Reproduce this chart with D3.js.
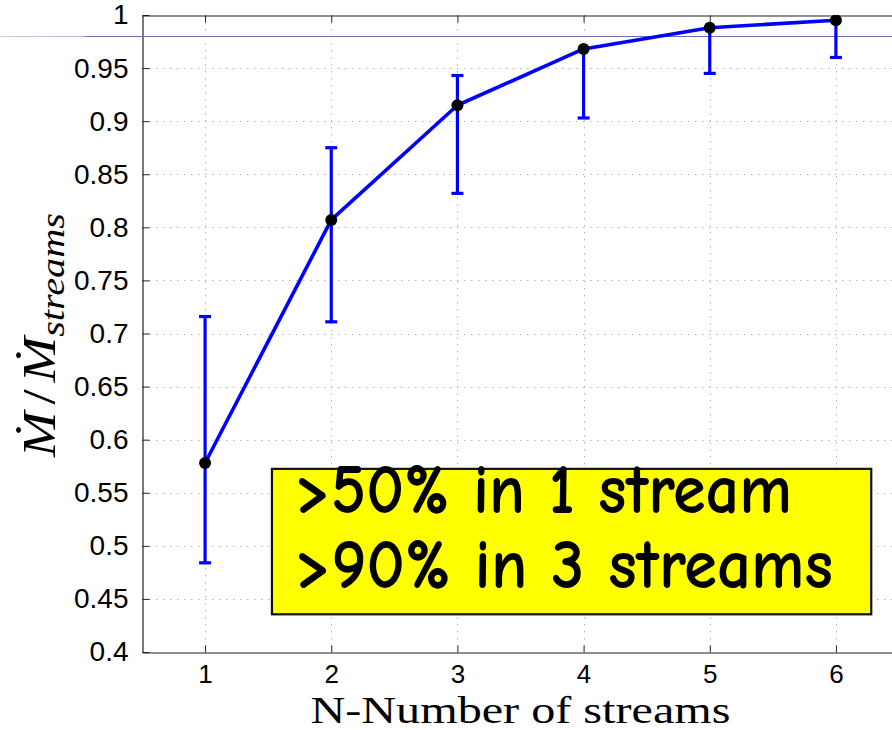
<!DOCTYPE html>
<html>
<head>
<meta charset="utf-8">
<script src="https://cdn.jsdelivr.net/npm/d3@7"></script>
<style>
  html, body { margin: 0; padding: 0; background: #fff; }
  svg { display: block; }
</style>
</head>
<body>
<svg id="chart" width="892" height="730"></svg>
<script>
// ---- data ----
const streams = [1, 2, 3, 4, 5, 6];
const fraction = [0.578, 0.807, 0.915, 0.968, 0.988, 0.995];
const errLow  = [0.484, 0.711, 0.832, 0.903, 0.945, 0.960];
const errHigh = [0.716, 0.875, 0.943, 0.968, 0.988, 0.995];
const yTicks = [0.4, 0.45, 0.5, 0.55, 0.6, 0.65, 0.7, 0.75, 0.8, 0.85, 0.9, 0.95, 1];
const yTickLabels = ["0.4", "0.45", "0.5", "0.55", "0.6", "0.65", "0.7", "0.75", "0.8", "0.85", "0.9", "0.95", "1"];
const xTicks = [1, 2, 3, 4, 5, 6];
const xTickLabels = ["1", "2", "3", "4", "5", "6"];
const refLevel = 0.98;
const noteLines = [">50% in 1 stream", ">90% in 3 streams"];
const xLabel = "N-Number of streams";

// ---- layout ----
const svg = d3.select("#chart");
const pLeft = 142, pRight = 899, pTop = 15, pBottom = 652;
const x = d3.scaleLinear().domain([0.5, 6.5]).range([pLeft, pRight]);
const y = d3.scaleLinear().domain([0.4, 1]).range([pBottom, pTop]);

const defs = svg.append("defs");
defs.append("clipPath").attr("id", "plotclip")
  .append("rect").attr("x", pLeft).attr("y", pTop).attr("width", pRight - pLeft).attr("height", pBottom - pTop);
const grad = defs.append("linearGradient").attr("id", "refgrad")
  .attr("gradientUnits", "userSpaceOnUse").attr("x1", 0).attr("x2", 892).attr("y1", 0).attr("y2", 0);
grad.append("stop").attr("offset", 0).attr("stop-color", "#c8cbe4");
grad.append("stop").attr("offset", 0.09).attr("stop-color", "#b6bade");
grad.append("stop").attr("offset", 0.1).attr("stop-color", "#6870b4");
grad.append("stop").attr("offset", 1).attr("stop-color", "#6870b4");

// grid
const grid = svg.append("g").attr("stroke", "#b4b4b4").attr("stroke-width", 1)
  .attr("stroke-dasharray", "1.5,5.5");
grid.selectAll("line.h").data(yTicks.slice(1, -1)).join("line").attr("class", "h")
  .attr("x1", pLeft).attr("x2", pRight)
  .attr("y1", d => Math.round(y(d)) + 0.5).attr("y2", d => Math.round(y(d)) + 0.5);
grid.selectAll("line.v").data(xTicks).join("line").attr("class", "v")
  .attr("y1", pTop).attr("y2", pBottom)
  .attr("x1", d => Math.round(x(d)) + 0.5).attr("x2", d => Math.round(x(d)) + 0.5);

// axes
const yAxis = d3.axisLeft(y).tickValues(yTicks).tickFormat((d, i) => yTickLabels[i])
  .tickSizeInner(-7).tickSizeOuter(0).tickPadding(14);
const gy = svg.append("g").attr("transform", `translate(${pLeft + 0.5},0)`).call(yAxis);
const xAxis = d3.axisBottom(x).tickValues(xTicks).tickFormat((d, i) => xTickLabels[i])
  .tickSizeInner(-7).tickSizeOuter(0).tickPadding(12);
const gx = svg.append("g").attr("transform", `translate(0,${pBottom + 0.5})`).call(xAxis);
const xTop = d3.axisTop(x).tickValues(xTicks).tickFormat("").tickSizeInner(-7).tickSizeOuter(0);
const gt = svg.append("g").attr("transform", `translate(0,${pTop + 0.5})`).call(xTop);
[gy, gx, gt].forEach(g => {
  g.selectAll("path.domain").attr("stroke", "#222").attr("stroke-width", 1.2);
  g.selectAll(".tick line").attr("stroke", "#222");
  g.selectAll("text").attr("fill", "#000")
    .style("font-family", "'Liberation Sans', Arial, Helvetica, sans-serif");
});
gy.selectAll("text").style("font-size", "28px");
gx.selectAll("text").style("font-size", "26px").attr("dy", "0.7em");

// reference line
svg.append("line")
  .attr("x1", 0).attr("x2", 892)
  .attr("y1", Math.round(y(refLevel)) + 0.5).attr("y2", Math.round(y(refLevel)) + 0.5)
  .attr("stroke", "url(#refgrad)").attr("stroke-width", 1);

// data
const plot = svg.append("g").attr("clip-path", "url(#plotclip)");
const pts = streams.map((s, i) => ({ s, v: fraction[i], lo: errLow[i], hi: errHigh[i] }));
const blue = "#0000ff";
plot.selectAll("line.err").data(pts).join("line").attr("class", "err")
  .attr("x1", d => x(d.s)).attr("x2", d => x(d.s))
  .attr("y1", d => y(d.lo)).attr("y2", d => y(d.hi))
  .attr("stroke", blue).attr("stroke-width", 3.2);
const caps = [];
pts.forEach(d => {
  if (d.lo < d.v) caps.push({ s: d.s, v: d.lo });
  if (d.hi > d.v) caps.push({ s: d.s, v: d.hi });
});
plot.selectAll("line.cap").data(caps).join("line").attr("class", "cap")
  .attr("x1", d => x(d.s) - 6).attr("x2", d => x(d.s) + 6)
  .attr("y1", d => y(d.v)).attr("y2", d => y(d.v))
  .attr("stroke", blue).attr("stroke-width", 3.2);
plot.append("path").datum(pts)
  .attr("d", d3.line().x(d => x(d.s)).y(d => y(d.v)))
  .attr("fill", "none").attr("stroke", blue).attr("stroke-width", 3.6)
  .attr("stroke-linejoin", "round");
plot.selectAll("circle").data(pts).join("circle")
  .attr("cx", d => x(d.s)).attr("cy", d => y(d.v)).attr("r", 6)
  .attr("fill", "#000");

// axis labels
svg.append("text")
  .attr("x", (pLeft + pRight) / 2).attr("y", 722.5)
  .attr("text-anchor", "middle")
  .style("font-family", "'Liberation Serif', 'DejaVu Serif', serif")
  .style("font-size", "38px")
  .attr("textLength", 420).attr("lengthAdjust", "spacingAndGlyphs")
  .text(xLabel);

const yl = svg.append("text")
  .attr("transform", `translate(55,335) rotate(-90)`)
  .attr("text-anchor", "middle")
  .attr("textLength", 244).attr("lengthAdjust", "spacingAndGlyphs")
  .style("font-family", "'Liberation Serif', 'DejaVu Serif', serif")
  .style("font-style", "italic")
  .style("font-size", "46px");
yl.append("tspan").text("\u1E40");
yl.append("tspan").attr("dx", 6).style("font-style", "normal").text("/");
yl.append("tspan").attr("dx", 6).text("\u1E40");
yl.append("tspan").attr("dy", 9).style("font-size", "34px").text("streams");

// annotation box
const box = { x0: 1.53, x1: 6.28, y0: 0.4355, y1: 0.5725 };
svg.append("rect")
  .attr("x", x(box.x0)).attr("y", y(box.y1))
  .attr("width", x(box.x1) - x(box.x0)).attr("height", y(box.y0) - y(box.y1))
  .attr("fill", "#ffff00").attr("stroke", "#111").attr("stroke-width", 2.2);
const noteW = [497, 538];
noteLines.forEach((t, i) => {
  svg.append("text")
    .attr("x", 295).attr("y", 513 + i * 75)
    .style("font-family", "'Comic Sans MS', 'Comic Neue', 'Noto Sans', sans-serif")
    .style("font-size", "70px")
    .style("font-weight", "bold")
    .attr("textLength", noteW[i]).attr("lengthAdjust", "spacingAndGlyphs")
    .attr("fill", "#000")
    .text(t);
});
</script>
</body>
</html>
